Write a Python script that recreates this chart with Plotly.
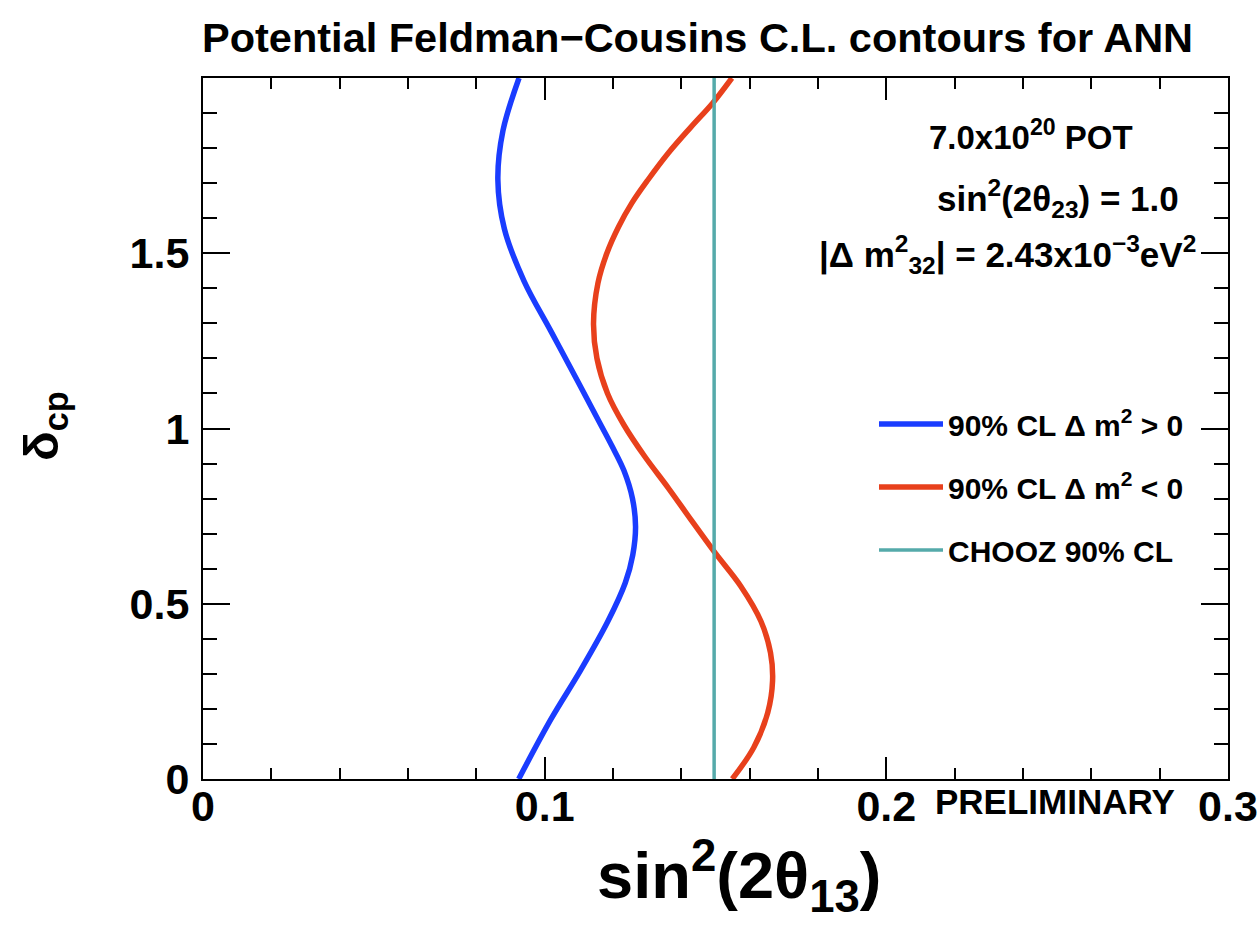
import plotly.graph_objects as go

# ---- data ----
blue_delta = [0.0, 0.17, 0.31, 0.45, 0.56, 0.64, 0.72, 0.80, 0.88, 0.95, 1.02, 1.14, 1.28, 1.42, 1.57, 1.71, 1.85, 2.0]
blue_s2t13 = [0.0924, 0.1018, 0.1105, 0.1185, 0.1236, 0.1258, 0.1266, 0.1257, 0.1232, 0.1197, 0.1159, 0.1094, 0.1017,
              0.0940, 0.0882, 0.0863, 0.0878, 0.0925]

red_delta = [0.0, 0.09, 0.19, 0.28, 0.36, 0.45, 0.55, 0.645, 0.74, 0.83, 0.92, 1.01, 1.10, 1.20,
             1.30, 1.415, 1.50, 1.575, 1.643, 1.709, 1.786, 1.86, 1.929, 2.0]
red_s2t13 = [0.1549, 0.1612, 0.1653, 0.1667, 0.1661, 0.1633, 0.1574, 0.1499, 0.1428, 0.1362, 0.1293, 0.1232, 0.1184, 0.1153,
             0.1143, 0.1156, 0.1182, 0.1216, 0.1255, 0.1302, 0.1362, 0.1428, 0.1492, 0.1548]

chooz_delta = [0.0, 2.0]
chooz_s2t13 = [0.1496, 0.1496]

names = ["90% CL \u0394 m<sup>2</sup> > 0", "90% CL \u0394 m<sup>2</sup> < 0", "CHOOZ 90% CL"]
colors = ["#1a3cff", "#e8401c", "#55aaaa"]

x_ticks = [0, 0.1, 0.2, 0.3]
x_ticklabels = ["0", "0.1", "0.2", "0.3"]
y_ticks = [0, 0.5, 1, 1.5]
y_ticklabels = ["0", "0.5", "1", "1.5"]

FONT = "Liberation Sans, Arial, Helvetica, sans-serif"
W, H = 1260, 931
L, R, T, B = 203, 32, 78, 152
PW, PH = W - L - R, H - T - B

fig = go.Figure()
fig.add_trace(go.Scatter(x=blue_s2t13, y=blue_delta, mode="lines", name=names[0], legendgroup="a",
                         line=dict(color=colors[0], width=5.5, shape="spline", smoothing=1.0)))
fig.add_trace(go.Scatter(x=red_s2t13, y=red_delta, mode="lines", name=names[1], legendgroup="b",
                         line=dict(color=colors[1], width=5.5, shape="spline", smoothing=1.0)))
fig.add_trace(go.Scatter(x=chooz_s2t13, y=chooz_delta, mode="lines", name=names[2], legendgroup="c",
                         line=dict(color=colors[2], width=3.5)))

axis_common = dict(showline=True, linecolor="black", linewidth=2, mirror="allticks",
                   ticks="inside", tickcolor="black", tickwidth=1.5,
                   showgrid=False, zeroline=False, automargin=False,
                   tickfont=dict(family=FONT, size=43, color="black", weight="bold"))

fig.update_xaxes(range=[0, 0.3], tickvals=x_ticks, ticktext=x_ticklabels,
                 ticklen=22, ticklabelstandoff=-12,
                 minor=dict(dtick=0.02, tick0=0, ticks="inside", ticklen=11, tickcolor="black", tickwidth=1.5),
                 **axis_common)
fig.update_yaxes(range=[0, 2.0], tickvals=y_ticks, ticktext=y_ticklabels,
                 ticklen=27, ticklabelstandoff=3,
                 minor=dict(dtick=0.1, tick0=0, ticks="inside", ticklen=14, tickcolor="black", tickwidth=1.5),
                 **axis_common)

annotations = [
    dict(text="Potential Feldman\u2212Cousins C.L. contours for ANN", x=697, y=37, size=41.5),
    dict(text="sin<sup>2</sup>(2\u03b8<sub>13</sub>)", x=739, y=876, size=65),
    dict(text="\u03b4<sub>cp</sub>", x=44, y=426, size=49, textangle=-90),
    dict(text="PRELIMINARY", x=1055, y=801, size=35),
    dict(text="7.0x10<sup>20</sup> POT", x=1031, y=135, size=33),
    dict(text="sin<sup>2</sup>(2\u03b8<sub>23</sub>) = 1.0", x=1058, y=198, size=35),
    dict(text="|\u0394 m<sup>2</sup><sub>32</sub>| = 2.43x10<sup>\u22123</sup>eV<sup>2</sup>", x=1007, y=255, size=35),
]
ann_objs = []
for a in annotations:
    ann_objs.append(dict(text=a["text"], xref="paper", yref="paper",
                         x=(a["x"] - L) / PW, y=(H - B - a["y"]) / PH,
                         xanchor="center", yanchor="middle", showarrow=False,
                         font=dict(family=FONT, color="black", weight="bold", size=a["size"]),
                         textangle=a.get("textangle", 0)))

fig.update_layout(
    width=W, height=H,
    margin=dict(l=L, r=R, t=T, b=B, pad=0, autoexpand=False),
    paper_bgcolor="white", plot_bgcolor="white",
    annotations=ann_objs,
    showlegend=True,
    legend=dict(x=(874 - L) / PW, y=(H - B - 398) / PH, xanchor="left", yanchor="top",
                font=dict(family=FONT, size=30, color="black", weight="bold"),
                bgcolor="rgba(0,0,0,0)", tracegroupgap=21, itemwidth=64),
)

fig.write_html("out.html")
